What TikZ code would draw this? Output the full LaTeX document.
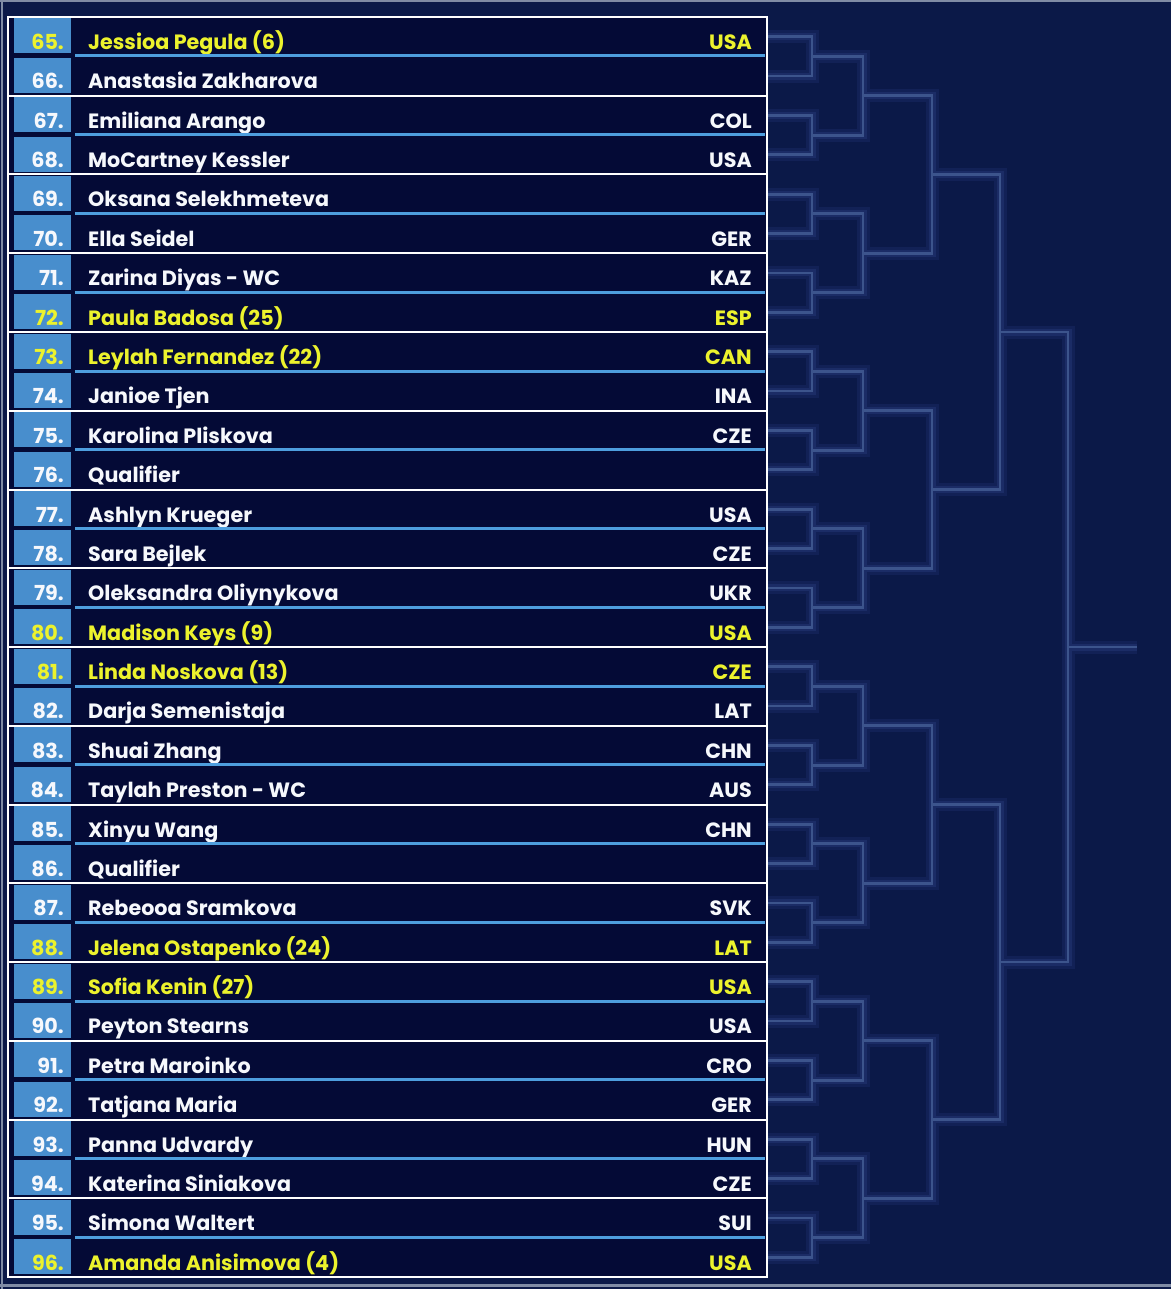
\documentclass[tikz,border=0pt]{standalone}
\usepackage{fontspec}
\setmainfont{Poppins}
\usetikzlibrary{positioning}

\definecolor{bgnavy}{RGB}{11,25,72}
\definecolor{rownavy}{RGB}{4,10,54}
\definecolor{numblue}{RGB}{72,142,205}
\definecolor{lineblue}{RGB}{78,158,222}
\definecolor{seedyellow}{RGB}{236,242,45}
\definecolor{plainwhite}{RGB}{246,248,252}
\definecolor{wirecore}{RGB}{60,84,140}
\definecolor{wireglow}{RGB}{18,33,86}
\definecolor{wireinner}{RGB}{27,44,102}
\definecolor{framegray}{RGB}{128,140,165}

\begin{document}
\begin{tikzpicture}[x=1pt,y=-1pt,
  numbox/.style={fill=numblue,minimum width=57pt,minimum height=35pt,inner sep=0pt},
  txt/.style={font=\fontsize{20.7}{21}\selectfont\bfseries,inner sep=0pt},
  halo/.style={draw=wireglow,line width=13pt},
  innerhalo/.style={draw=wireinner,line width=7pt},
  wire/.style={draw=wirecore,line width=2.8pt},
  divider/.style={draw=white,line width=2pt},
  underline/.style={draw=lineblue,line width=3pt}]

  \useasboundingbox (0,0) rectangle (1171,1289);
  \fill[bgnavy] (0,0) rectangle (1171,1289);
  \draw[framegray,line width=2pt] (0,1) -- (1171,1);
  \draw[framegray,line width=2pt] (1.5,0) -- (1.5,1289);
  \draw[framegray,line width=2.5pt] (0,1285.5) -- (1171,1285.5);

  % draw
  \foreach \k in {0,...,31}
    \coordinate (w0-\k) at (767,36.69+39.375*\k);
  \foreach \n/\xa/\cnt in {1/812/15,2/863/7,3/932/3,4/1000/1,5/1068/0}
    \foreach \m in {0,...,\cnt}{
      \pgfmathsetmacro\yy{36.69+39.375*(2^\n*\m+(2^\n-1)/2)}
      \coordinate (w\n-\m) at (\xa,\yy);
    }
  \coordinate (fin) at (1137,36.69+39.375*15.5);

  \foreach \s in {halo,innerhalo,wire}{
    \foreach \n/\cnt in {1/15,2/7,3/3,4/1,5/0}
      \foreach \m in {0,...,\cnt}{
        \pgfmathtruncatemacro\prev{\n-1}
        \pgfmathtruncatemacro\lo{2*\m}
        \pgfmathtruncatemacro\hi{2*\m+1}
        \draw[\s] (w\prev-\lo) -| (w\n-\m) |- (w\prev-\hi);
      }
    \draw[\s] (w5-0) -- (fin);
  }

  \fill[rownavy] (8,17) rectangle (767,1277);

  \foreach \n/\who/\nat/\tint [count=\k from 0] in {
    65/Jessioa Pegula (6)/USA/seedyellow,
    66/Anastasia Zakharova//plainwhite,
    67/Emiliana Arango/COL/plainwhite,
    68/MoCartney Kessler/USA/plainwhite,
    69/Oksana Selekhmeteva//plainwhite,
    70/Ella Seidel/GER/plainwhite,
    71/Zarina Diyas - WC/KAZ/plainwhite,
    72/Paula Badosa (25)/ESP/seedyellow,
    73/Leylah Fernandez (22)/CAN/seedyellow,
    74/Janioe Tjen/INA/plainwhite,
    75/Karolina Pliskova/CZE/plainwhite,
    76/Qualifier//plainwhite,
    77/Ashlyn Krueger/USA/plainwhite,
    78/Sara Bejlek/CZE/plainwhite,
    79/Oleksandra Oliynykova/UKR/plainwhite,
    80/Madison Keys (9)/USA/seedyellow,
    81/Linda Noskova (13)/CZE/seedyellow,
    82/Darja Semenistaja/LAT/plainwhite,
    83/Shuai Zhang/CHN/plainwhite,
    84/Taylah Preston - WC/AUS/plainwhite,
    85/Xinyu Wang/CHN/plainwhite,
    86/Qualifier//plainwhite,
    87/Rebeooa Sramkova/SVK/plainwhite,
    88/Jelena Ostapenko (24)/LAT/seedyellow,
    89/Sofia Kenin (27)/USA/seedyellow,
    90/Peyton Stearns/USA/plainwhite,
    91/Petra Maroinko/CRO/plainwhite,
    92/Tatjana Maria/GER/plainwhite,
    93/Panna Udvardy/HUN/plainwhite,
    94/Katerina Siniakova/CZE/plainwhite,
    95/Simona Waltert/SUI/plainwhite,
    96/Amanda Anisimova (4)/USA/seedyellow}{
    \pgfmathsetmacro\rowtop{17+39.375*\k}
    \node[numbox] (box-\k) at (42.5,\rowtop+19) {};
    \node[txt,text=\tint,anchor=base east] (num-\k) at (64,\rowtop+32.5) {\n.};
    \node[txt,text=\tint,anchor=base west] (name-\k) at (88,\rowtop+32.5) {\who};
    \node[txt,text=\tint,anchor=base east] (nat-\k) at (752,\rowtop+32.5) {\nat};
  }

  \foreach \k in {0,2,...,30}
    \draw[underline] (75,17+39.375*\k+39) -- (765,17+39.375*\k+39);
  \foreach \p in {1,...,15}
    \draw[divider] (8,17+78.75*\p) -- (767,17+78.75*\p);
  \draw[divider] (8,17) rectangle (767,1277);

\end{tikzpicture}
\end{document}
